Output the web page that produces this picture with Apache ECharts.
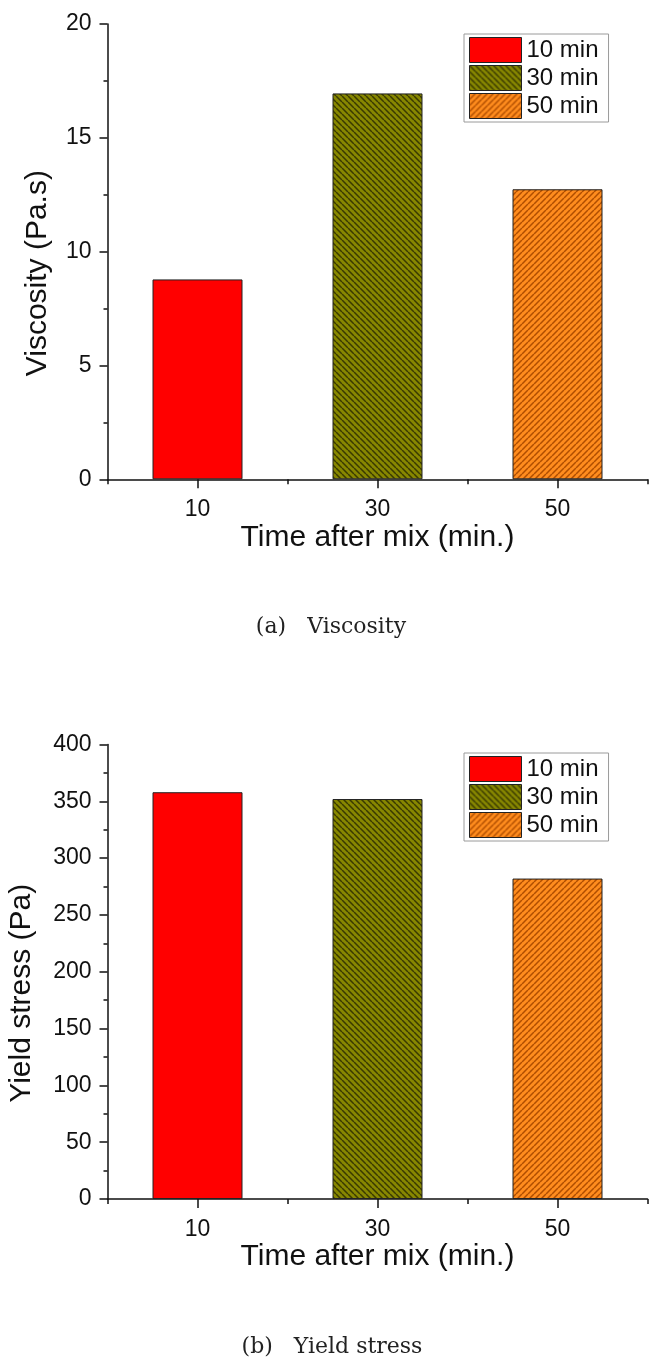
<!DOCTYPE html>
<html><head><meta charset="utf-8">
<script src="https://cdn.jsdelivr.net/npm/echarts@6/dist/echarts.min.js"></script>
<style>html,body{margin:0;padding:0;background:#fff}#c{width:662px;height:1364px}</style>
</head><body><div id="c"></div>
<script>
// ---- data ----
const categories = ['10', '30', '50'];
const seriesNames = ['10 min', '30 min', '50 min'];
const viscosity = [8.78, 16.95, 12.74];
const yieldStress = [358, 352, 282];
const viscosityAxis = { min: 0, max: 20, interval: 5 };
const yieldAxis = { min: 0, max: 400, interval: 50 };
const xAxisTitle = 'Time after mix (min.)';
const yTitles = ['Viscosity (Pa.s)', 'Yield stress (Pa)'];
const captions = ['(a)   Viscosity', '(b)   Yield stress'];

// ---- styles ----
function hatch(base, line, dir) {
  const s = 6;
  const c = document.createElement('canvas');
  c.width = s; c.height = s;
  const g = c.getContext('2d');
  g.fillStyle = base; g.fillRect(0, 0, s, s);
  g.strokeStyle = line; g.lineWidth = 1.5;
  g.beginPath();
  for (let k = -1; k <= 1; k++) {
    if (dir === 'back') { g.moveTo(k * s, 0); g.lineTo(k * s + s, s); }
    else { g.moveTo(k * s, s); g.lineTo(k * s + s, 0); }
  }
  g.stroke();
  return { image: c, repeat: 'repeat' };
}
const fills = ['#ff0000', hatch('#878700', '#3a3a00', 'back'), hatch('#ff8c1e', '#b04e00', 'fwd')];
const FONT = 'Liberation Sans';
const black = '#111';

const gridsCfg = [
  { top: 24, height: 455.3, values: viscosity, axis: viscosityAxis, gap: 54.5, legendTop: 34 },
  { top: 744.5, height: 454.5, values: yieldStress, axis: yieldAxis, gap: 70.5, legendTop: 753 }
];

const grid = [], xAxis = [], yAxis = [], series = [], legend = [];
gridsCfg.forEach((g, gi) => {
  grid.push({ left: 107.5, width: 540, top: g.top, height: g.height, containLabel: false, outerBoundsMode: 'none' });
  xAxis.push({
    type: 'category', gridIndex: gi, data: categories, position: 'bottom',
    axisLine: { show: true, lineStyle: { color: black, width: 1.5 } },
    axisTick: { show: true, alignWithLabel: true, length: 9, lineStyle: { color: black, width: 1.5 } },
    axisLabel: { fontSize: 23, fontFamily: FONT, color: black, margin: 19 },
    splitLine: { show: false },
    name: xAxisTitle, nameLocation: 'middle', nameGap: 43,
    nameTextStyle: { fontSize: 30, fontFamily: FONT, color: black }
  });
  xAxis.push({
    type: 'category', gridIndex: gi, data: categories, position: 'bottom',
    axisLine: { show: false },
    axisTick: { show: true, alignWithLabel: false, length: 5, lineStyle: { color: black, width: 1.5 } },
    axisLabel: { show: false }, splitLine: { show: false }
  });
  yAxis.push({
    type: 'value', gridIndex: gi, min: g.axis.min, max: g.axis.max, interval: g.axis.interval,
    axisLine: { show: true, lineStyle: { color: black, width: 1.5 } },
    axisTick: { show: true, inside: false, length: 8, lineStyle: { color: black, width: 1.5 } },
    minorTick: { show: true, splitNumber: 2, length: 4, lineStyle: { color: black, width: 1.5 } },
    splitLine: { show: false },
    axisLabel: { fontSize: 23, fontFamily: FONT, color: black, margin: 16 },
    name: yTitles[gi], nameLocation: 'middle', nameGap: g.gap,
    nameTextStyle: { fontSize: 30, fontFamily: FONT, color: black, padding: [0, 43, 0, 0] }
  });
  seriesNames.forEach((n, i) => {
    series.push({
      type: 'bar', name: n, xAxisIndex: gi * 2, yAxisIndex: gi,
      data: g.values.map((v, j) => (j === i ? v : '-')),
      barWidth: '50%', barGap: '-100%',
      itemStyle: { color: fills[i], borderColor: '#222', borderWidth: 1 },
      emphasis: { disabled: true }
    });
  });
  legend.push({
    orient: 'vertical', left: 464, top: g.legendTop,
    data: seriesNames.map(n => ({ name: n, icon: 'rect', itemStyle: { borderColor: '#222', borderWidth: 1 } })),
    itemWidth: 52, itemHeight: 25, itemGap: 2, padding: [3, 10, 3, 5],
    borderColor: '#9a9a9a', borderWidth: 1, selectedMode: false,
    textStyle: { fontSize: 24, fontFamily: FONT, color: black }
  });
});

const chart = echarts.init(document.getElementById('c'), null, { renderer: 'canvas' });
chart.setOption({
  animation: false,
  backgroundColor: '#fff',
  grid, xAxis, yAxis, series, legend,
  graphic: [
    { type: 'text', x: 331, y: 627, style: { text: captions[0], fontSize: 22, fontFamily: 'DejaVu Serif', fill: '#222', align: 'center', verticalAlign: 'middle' } },
    { type: 'text', x: 332, y: 1347, style: { text: captions[1], fontSize: 22, fontFamily: 'DejaVu Serif', fill: '#222', align: 'center', verticalAlign: 'middle' } }
  ]
});
</script>
</body></html>
